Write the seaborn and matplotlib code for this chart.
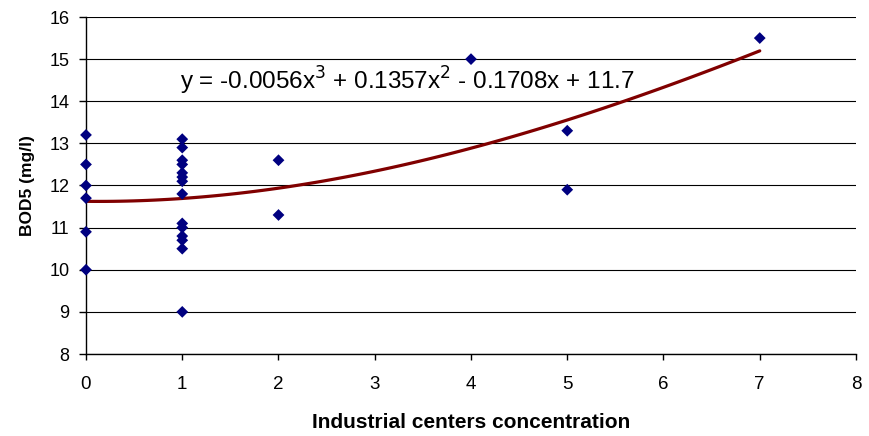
import numpy as np
import pandas as pd
import matplotlib
matplotlib.use("Agg")
import matplotlib.pyplot as plt
import seaborn as sns

x_vals = [0, 0, 0, 0, 0, 0,
          1, 1, 1, 1, 1, 1, 1, 1, 1, 1, 1, 1, 1, 1,
          2, 2, 4, 5, 5, 7]
bod5 = [13.2, 12.5, 12.0, 11.7, 10.9, 10.0,
        13.1, 12.9, 12.6, 12.5, 12.3, 12.2, 12.1, 11.8, 11.1, 11.0, 10.8, 10.7, 10.5, 9.0,
        12.6, 11.3, 15.0, 13.3, 11.9, 15.5]
equation = "y = -0.0056x$^3$ + 0.1357x$^2$ - 0.1708x + 11.7"
x_ticks = [0, 1, 2, 3, 4, 5, 6, 7, 8]
y_ticks = [8, 9, 10, 11, 12, 13, 14, 15, 16]

df = pd.DataFrame({"x": x_vals, "y": bod5})

sns.set_theme(style="white")
plt.rcParams['font.family'] = ['Liberation Sans', 'DejaVu Sans']
plt.rcParams['text.color'] = 'black'
plt.rcParams['axes.labelcolor'] = 'black'

fig = plt.figure(figsize=(8.7, 4.36), dpi=100)
ax = fig.add_axes([86/870, 1 - 354/436, (856-86)/870, (354-17)/436])

sns.regplot(data=df, x="x", y="y", order=3, ci=None, truncate=True, ax=ax, marker="D",
            scatter_kws=dict(s=36, color="#000080", alpha=1, edgecolors="none", zorder=3, clip_on=False),
            line_kws=dict(color="#800000", lw=2.3, zorder=2))

ax.set_xlim(0, 8)
ax.set_ylim(8, 16)
ax.set_xticks(x_ticks)
ax.set_yticks(y_ticks)
ax.yaxis.grid(True, color="#000000", lw=0.8)
ax.set_axisbelow(True)
for s in ["top", "right"]:
    ax.spines[s].set_visible(False)
for s in ["left", "bottom"]:
    ax.spines[s].set_color("black")
    ax.spines[s].set_linewidth(1)
ax.tick_params(axis="y", direction="out", length=5, width=1, colors="black",
               labelsize=13, left=True, pad=7)
ax.tick_params(axis="x", direction="out", length=4, width=1, colors="black",
               labelsize=13.5, bottom=True, pad=12)
ax.set_xlabel("Industrial centers concentration", fontsize=15, fontweight="bold", labelpad=14, color="black")
ax.set_ylabel("BOD5 (mg/l)", fontsize=12.5, fontweight="bold", labelpad=10, color="black")
ax.text(0.98, 14.27, equation, fontsize=17.5, ha="left", va="baseline", color="black")

fig.savefig("out.png", dpi=100)
